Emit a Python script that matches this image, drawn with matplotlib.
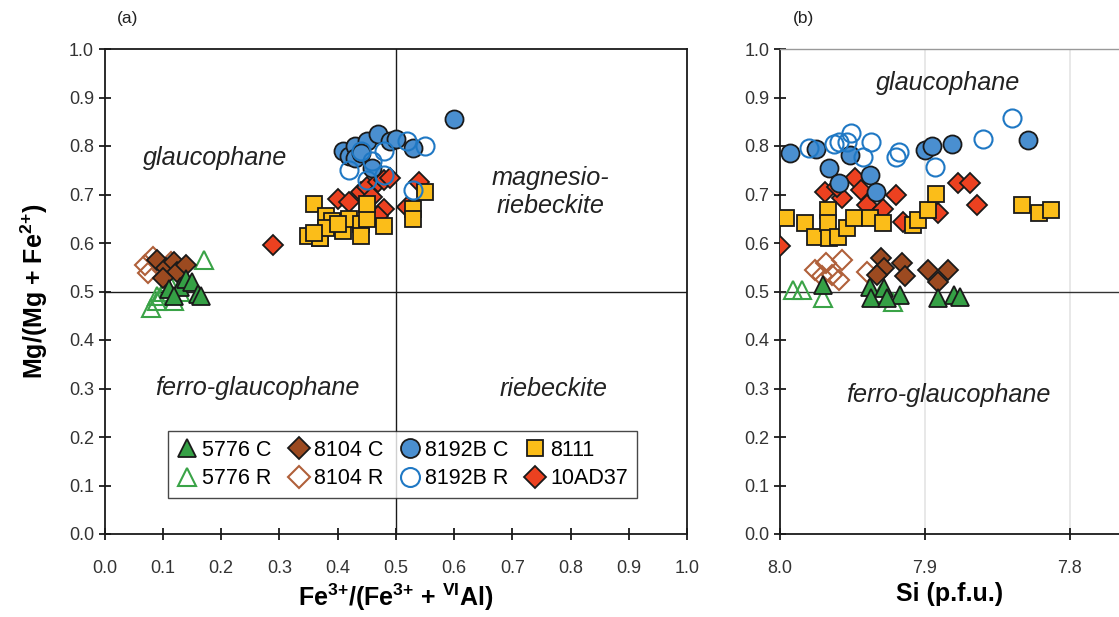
import matplotlib
matplotlib.use("Agg")
import matplotlib.pyplot as plt

plt.rcParams["font.family"] = ["Liberation Sans", "DejaVu Sans"]
plt.rcParams["mathtext.fontset"] = "custom"
plt.rcParams["mathtext.bf"] = "Liberation Sans:bold"
plt.rcParams["mathtext.rm"] = "Liberation Sans"
plt.rcParams["mathtext.default"] = "bf"

# ---- panel (a): Fe3+/(Fe3+ + VIAl) vs Mg/(Mg + Fe2+)
a_5776c_x = [0.11, 0.13, 0.14, 0.15, 0.16, 0.165, 0.12]
a_5776c_y = [0.505, 0.51, 0.525, 0.52, 0.495, 0.49, 0.49]
a_5776r_x = [0.08, 0.09, 0.10, 0.12, 0.17, 0.11, 0.13, 0.09]
a_5776r_y = [0.465, 0.49, 0.50, 0.48, 0.565, 0.52, 0.50, 0.48]
a_8104c_x = [0.09, 0.105, 0.12, 0.125, 0.14, 0.10]
a_8104c_y = [0.565, 0.548, 0.561, 0.541, 0.555, 0.528]
a_8104r_x = [0.07, 0.083, 0.074, 0.10, 0.115]
a_8104r_y = [0.555, 0.572, 0.538, 0.545, 0.56]
a_8192bc_x = [0.41, 0.42, 0.43, 0.45, 0.47, 0.49, 0.50, 0.53, 0.43, 0.44, 0.46, 0.60]
a_8192bc_y = [0.79, 0.78, 0.80, 0.81, 0.825, 0.81, 0.815, 0.795, 0.775, 0.785, 0.755, 0.855]
a_8192br_x = [0.42, 0.44, 0.45, 0.48, 0.48, 0.52, 0.55, 0.53, 0.46]
a_8192br_y = [0.75, 0.79, 0.73, 0.74, 0.79, 0.81, 0.80, 0.71, 0.77]
a_8111_x = [0.36, 0.37, 0.38, 0.39, 0.35, 0.37, 0.38, 0.41, 0.42, 0.44,
            0.45, 0.44, 0.48, 0.45, 0.55, 0.53, 0.53, 0.40, 0.36]
a_8111_y = [0.68, 0.61, 0.655, 0.645, 0.615, 0.61, 0.63, 0.625, 0.65, 0.64,
            0.65, 0.615, 0.635, 0.68, 0.705, 0.67, 0.65, 0.64, 0.62]
a_10ad37_x = [0.29, 0.40, 0.42, 0.44, 0.45, 0.46, 0.47, 0.48, 0.49, 0.48, 0.47, 0.52, 0.54]
a_10ad37_y = [0.595, 0.69, 0.685, 0.705, 0.715, 0.695, 0.725, 0.73, 0.735, 0.67, 0.655, 0.675, 0.725]

# ---- panel (b): Si (p.f.u.) vs Mg/(Mg + Fe2+)
b_5776c_x = [7.97, 7.938, 7.937, 7.928, 7.917, 7.891, 7.88, 7.876, 7.926]
b_5776c_y = [0.513, 0.51, 0.486, 0.507, 0.493, 0.486, 0.493, 0.489, 0.486]
b_5776r_x = [7.991, 7.985, 7.97, 7.922, 7.93]
b_5776r_y = [0.503, 0.503, 0.486, 0.479, 0.496]
b_8104c_x = [7.93, 7.928, 7.933, 7.916, 7.914, 7.898, 7.884, 7.891]
b_8104c_y = [0.570, 0.548, 0.534, 0.558, 0.531, 0.544, 0.544, 0.520]
b_8104r_x = [7.976, 7.968, 7.957, 7.964, 7.971, 7.94, 7.959]
b_8104r_y = [0.544, 0.558, 0.565, 0.534, 0.531, 0.541, 0.524]
b_8192bc_x = [7.993, 7.975, 7.952, 7.966, 7.959, 7.938, 7.934, 7.90, 7.895, 7.881, 7.829]
b_8192bc_y = [0.785, 0.793, 0.781, 0.754, 0.723, 0.740, 0.706, 0.792, 0.80, 0.805, 0.812]
b_8192br_x = [7.98, 7.963, 7.951, 7.954, 7.937, 7.943, 7.918, 7.92, 7.893, 7.86, 7.84, 7.959]
b_8192br_y = [0.795, 0.805, 0.826, 0.809, 0.809, 0.778, 0.788, 0.778, 0.757, 0.814, 0.857, 0.809]
b_8111_x = [7.996, 7.983, 7.976, 7.967, 7.967, 7.966, 7.96, 7.954, 7.949, 7.938,
            7.929, 7.908, 7.905, 7.898, 7.892, 7.833, 7.821, 7.813]
b_8111_y = [0.651, 0.642, 0.613, 0.668, 0.641, 0.61, 0.613, 0.630, 0.651, 0.651,
            0.642, 0.637, 0.648, 0.668, 0.702, 0.678, 0.662, 0.668]
b_10ad37_x = [8.0, 7.969, 7.957, 7.948, 7.944, 7.94, 7.929, 7.92, 7.915, 7.891,
              7.877, 7.869, 7.864, 7.961]
b_10ad37_y = [0.594, 0.706, 0.692, 0.733, 0.709, 0.678, 0.671, 0.699, 0.644, 0.661,
              0.723, 0.723, 0.678, 0.716]

# series styling: name -> (marker, face, edge, size)
styles = {
    "5776 C": ("^", "#35a045", "#1a1a1a", 12.5),
    "5776 R": ("^", "none", "#3aa347", 12.5),
    "8104 C": ("D", "#9c4a20", "#1a1a1a", 10.5),
    "8104 R": ("D", "none", "#b0603a", 10.5),
    "8192B C": ("o", "#4a8fd0", "#1a1a1a", 13),
    "8192B R": ("o", "none", "#1f78c4", 13),
    "8111": ("s", "#fbbd19", "#1a1a1a", 11.5),
    "10AD37": ("D", "#ec4120", "#1a1a1a", 10.5),
}
draw_order = ["5776 R", "8104 R", "8104 C", "5776 C", "10AD37", "8111", "8192B C", "8192B R"]
legend_order = ["5776 C", "5776 R", "8104 C", "8104 R", "8192B C", "8192B R", "8111", "10AD37"]

data_a = {
    "5776 C": (a_5776c_x, a_5776c_y), "5776 R": (a_5776r_x, a_5776r_y),
    "8104 C": (a_8104c_x, a_8104c_y), "8104 R": (a_8104r_x, a_8104r_y),
    "8192B C": (a_8192bc_x, a_8192bc_y), "8192B R": (a_8192br_x, a_8192br_y),
    "8111": (a_8111_x, a_8111_y), "10AD37": (a_10ad37_x, a_10ad37_y),
}
data_b = {
    "5776 C": (b_5776c_x, b_5776c_y), "5776 R": (b_5776r_x, b_5776r_y),
    "8104 C": (b_8104c_x, b_8104c_y), "8104 R": (b_8104r_x, b_8104r_y),
    "8192B C": (b_8192bc_x, b_8192bc_y), "8192B R": (b_8192br_x, b_8192br_y),
    "8111": (b_8111_x, b_8111_y), "10AD37": (b_10ad37_x, b_10ad37_y),
}

fig = plt.figure(figsize=(11.19, 6.17), dpi=100)
W, H = 1119, 617
ax_a = fig.add_axes([104.5 / W, 1 - 534 / H, (687 - 104.5) / W, 485 / H])
ax_b = fig.add_axes([780 / W, 1 - 534 / H, (1119 - 780) / W, 485 / H])


def draw(ax, data):
    handles = {}
    for z, name in enumerate(draw_order):
        m, fc, ec, ms = styles[name]
        x, y = data[name]
        (h,) = ax.plot(x, y, linestyle="none", marker=m, markersize=ms,
                       markerfacecolor=fc, markeredgecolor=ec,
                       markeredgewidth=1.3 if fc != "none" else 1.5,
                       label=name, zorder=3 + z)
        handles[name] = h
    return handles


handles = draw(ax_a, data_a)
draw(ax_b, data_b)

tick_kw = dict(labelsize=13, direction="inout", length=8, width=1.3,
               colors="#1a1a1a", labelcolor="#333333")

# panel (a)
ax_a.set_xlim(0, 1.0)
ax_a.set_ylim(0, 1.0)
ax_a.set_xticks([i / 10 for i in range(11)])
ax_a.set_yticks([i / 10 for i in range(11)])
ax_a.xaxis.set_major_formatter(matplotlib.ticker.FormatStrFormatter("%.1f"))
ax_a.yaxis.set_major_formatter(matplotlib.ticker.FormatStrFormatter("%.1f"))
ax_a.tick_params(**tick_kw)
ax_a.tick_params(axis="x", pad=15)
for s in ax_a.spines.values():
    s.set_linewidth(1.3)
    s.set_color("#1a1a1a")
ax_a.axvline(0.5, color="#1a1a1a", lw=1.0, zorder=2)
ax_a.axhline(0.5, color="#1a1a1a", lw=1.0, zorder=2)
ax_a.set_xlabel(r"Fe$^{3{+}}$/(Fe$^{3{+}}$ + $^{VI}$Al)", fontsize=18, fontweight="bold", labelpad=3)
ax_a.set_ylabel(r"Mg/(Mg + Fe$^{2{+}}$)", fontsize=18, fontweight="bold", labelpad=14)

txt_kw = dict(fontsize=18.2, style="italic", color="#222222", ha="center", va="center")
ax_a.text(0.19, 0.775, "glaucophane", **txt_kw)
ax_a.text(0.765, 0.705, "magnesio-\nriebeckite", linespacing=1.2, **txt_kw)
ax_a.text(0.262, 0.30, "ferro-glaucophane", **txt_kw)
ax_a.text(0.77, 0.30, "riebeckite", **txt_kw)

leg = ax_a.legend([handles[n] for n in legend_order], legend_order, ncol=4,
                  loc="lower left", bbox_to_anchor=(0.109, 0.074), borderaxespad=0,
                  fontsize=15.5, frameon=True, fancybox=False, handlelength=1.0,
                  handletextpad=0.2, columnspacing=0.75, labelspacing=0.35,
                  borderpad=0.4, markerscale=1.05)
leg.get_frame().set_edgecolor("#1a1a1a")
leg.get_frame().set_linewidth(1.0)
leg.set_zorder(20)

# panel (b)
ax_b.set_xlim(8.0, 7.766)
ax_b.set_ylim(0, 1.0)
ax_b.set_xticks([8.0, 7.9, 7.8])
ax_b.set_yticks([i / 10 for i in range(11)])
ax_b.xaxis.set_major_formatter(matplotlib.ticker.FormatStrFormatter("%.1f"))
ax_b.yaxis.set_major_formatter(matplotlib.ticker.FormatStrFormatter("%.1f"))
ax_b.tick_params(**tick_kw)
ax_b.tick_params(axis="x", pad=15)
ax_b.spines["right"].set_visible(False)
ax_b.spines["top"].set_color("#999999")
ax_b.spines["top"].set_linewidth(1.0)
for side in ["left", "bottom"]:
    ax_b.spines[side].set_linewidth(1.3)
    ax_b.spines[side].set_color("#1a1a1a")
for xv in [7.9, 7.8]:
    ax_b.axvline(xv, color="#e4e4e4", lw=1.2, zorder=1)
ax_b.axhline(0.5, color="#333333", lw=1.0, zorder=2)
ax_b.set_xlabel("Si (p.f.u.)", fontsize=18, fontweight="bold", labelpad=3)
ax_b.text(7.884, 0.93, "glaucophane", **txt_kw)
ax_b.text(7.884, 0.287, "ferro-glaucophane", **txt_kw)

fig.text(128 / W, 1 - 18 / H, "(a)", fontsize=12.5, ha="center", va="center", color="#222222")
fig.text(803 / W, 1 - 18 / H, "(b)", fontsize=12.5, ha="center", va="center", color="#222222")

fig.savefig("out.png", dpi=100)
